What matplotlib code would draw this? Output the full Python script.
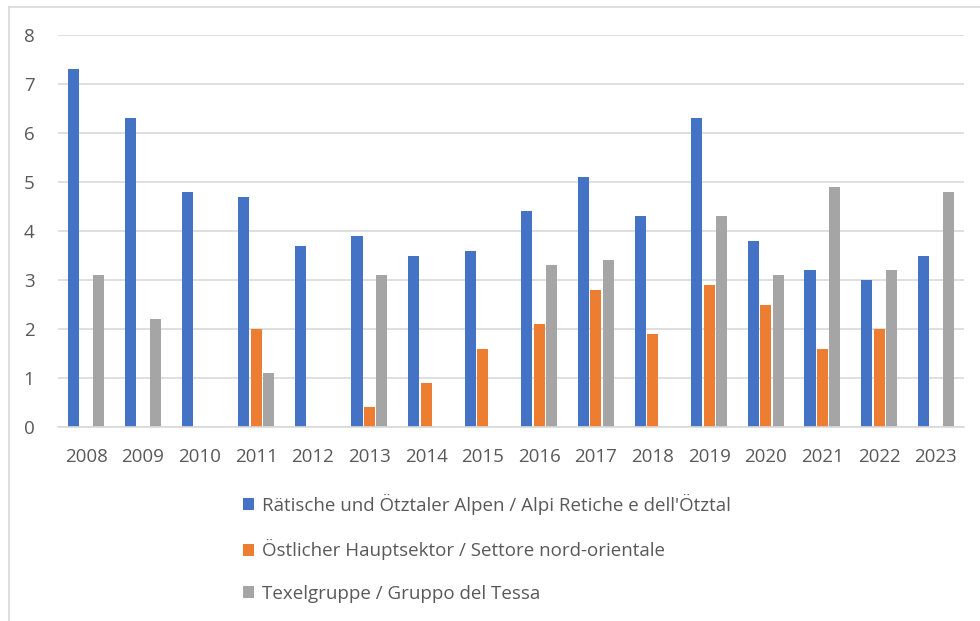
import matplotlib
matplotlib.use("Agg")
import matplotlib.pyplot as plt
import numpy as np
from matplotlib.lines import Line2D

years = ["2008", "2009", "2010", "2011", "2012", "2013", "2014", "2015",
         "2016", "2017", "2018", "2019", "2020", "2021", "2022", "2023"]
raetische = [7.3, 6.3, 4.8, 4.7, 3.7, 3.9, 3.5, 3.6, 4.4, 5.1, 4.3, 6.3, 3.8, 3.2, 3.0, 3.5]
oestlicher = [0, 0, 0, 2.0, 0, 0.4, 0.9, 1.6, 2.1, 2.8, 1.9, 2.9, 2.5, 1.6, 2.0, 0]
texel = [3.1, 2.2, 0, 1.1, 0, 3.1, 0, 0, 3.3, 3.4, 0, 4.3, 3.1, 4.9, 3.2, 4.8]
labels = ["Rätische und Ötztaler Alpen / Alpi Retiche e dell'Ötztal",
          "Östlicher Hauptsektor / Settore nord-orientale",
          "Texelgruppe / Gruppo del Tessa"]
colors = ["#4472C4", "#ED7D31", "#A5A5A5"]

plt.rcParams['font.family'] = ['Open Sans', 'DejaVu Sans']
txt = "#595959"
grid = "#D9D9D9"

fig = plt.figure(figsize=(9.8, 6.21), dpi=100)
ax = fig.add_axes([58/980, 1-427/621, (964-58)/980, (427-35)/621])

x = np.arange(len(years))
w = 0.195
off = 0.22
for i, (vals, lab, c) in enumerate(zip([raetische, oestlicher, texel], labels, colors)):
    ax.bar(x + (i-1)*off, vals, width=w, color=c, label=lab, zorder=3)

ax.set_xlim(-0.5, len(years)-0.5)
ax.set_ylim(0, 8)
ax.set_yticks(range(0, 9))
ax.set_xticks(x)
ax.set_xticklabels(years)
ax.tick_params(axis='both', length=0, labelsize=13.5, colors=txt)
ax.tick_params(axis='x', pad=15)
ax.tick_params(axis='y', pad=17)
ax.grid(axis='y', color=grid, linewidth=1.2, zorder=0)
for s in ['top', 'right', 'left']:
    ax.spines[s].set_visible(False)
ax.spines['bottom'].set_color(grid)
ax.spines['bottom'].set_linewidth(1.2)
ax.spines['bottom'].set_zorder(4)

leg = fig.legend(loc='upper left', bbox_to_anchor=(243/980, 1-494/621),
                 frameon=False, fontsize=13.5, labelcolor=txt,
                 handlelength=0.6, handleheight=0.6, handletextpad=0.4,
                 labelspacing=1.3, borderaxespad=0, borderpad=0)

# outer chart frame (left and top edges)
fig.add_artist(Line2D([9/980, 9/980], [0, 1-7/621], transform=fig.transFigure,
                      color=grid, linewidth=1.2))
fig.add_artist(Line2D([9/980, 1], [1-7/621, 1-7/621], transform=fig.transFigure,
                      color=grid, linewidth=1.2))

fig.savefig("out.png", dpi=100)
